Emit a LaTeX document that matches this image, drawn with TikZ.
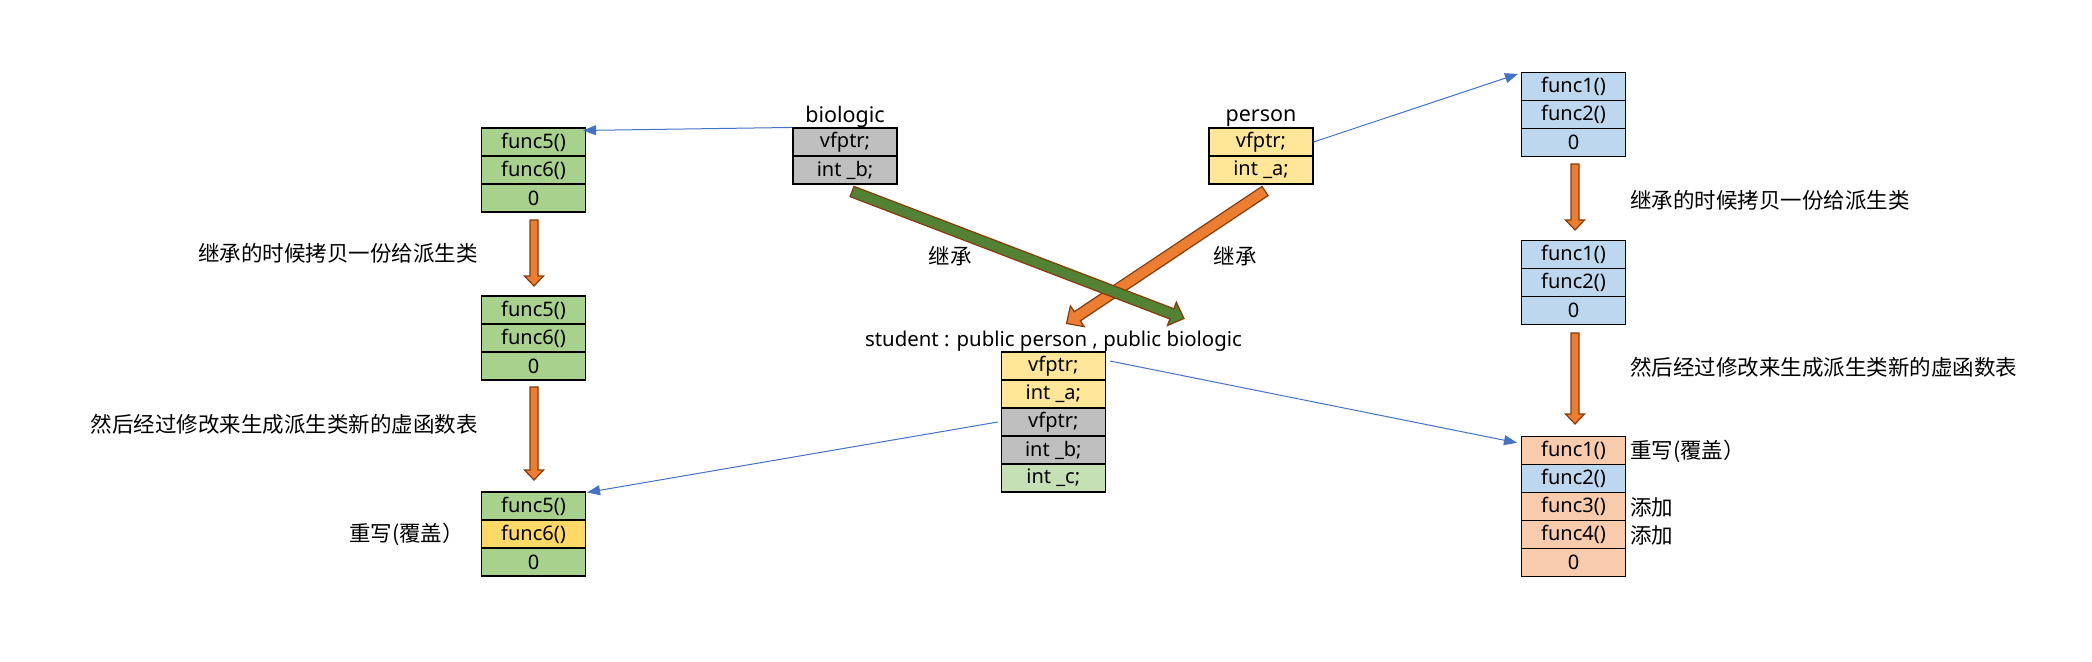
\documentclass[tikz,border=0pt]{standalone}
\usepackage{fontspec}
\setmainfont{Noto Sans}
\newfontfamily\cjk{Noto Sans CJK SC}
\usetikzlibrary{calc,arrows.meta}
\definecolor{cgreen}{HTML}{A9D18E}
\definecolor{cgrey}{HTML}{BFBFBF}
\definecolor{cyellow}{HTML}{FFE699}
\definecolor{cyellowb}{HTML}{FFD966}
\definecolor{clgreen}{HTML}{C5E0B4}
\definecolor{cblue}{HTML}{BDD7EE}
\definecolor{cpeach}{HTML}{F8CBAD}
\definecolor{aorange}{HTML}{ED7D31}
\definecolor{agreen}{HTML}{548235}
\definecolor{aedge}{HTML}{843C0C}
\definecolor{linkblue}{HTML}{4472C4}
\newcommand\fatarr[6]{%
  \coordinate (hb) at ($(#2)!#5!(#1)$);
  \filldraw[fill=#6,draw=aedge,line width=1.2pt,line join=miter]
    ($(#1)!#3!90:(#2)$) -- ($(hb)!#3!-90:(#1)$) -- ($(hb)!#4!-90:(#1)$) -- (#2)
    -- ($(hb)!#4!90:(#1)$) -- ($(hb)!#3!90:(#1)$) -- ($(#1)!#3!-90:(#2)$) -- cycle;}
\begin{document}
\begin{tikzpicture}[x=1pt,y=-1pt,
  cell/.style={draw=black,line width=1.1pt,minimum width=104pt,minimum height=28pt,inner sep=0pt,font=\fontsize{20}{22}\selectfont},
  lbl/.style={inner sep=0pt,font=\fontsize{21.5}{24}\selectfont},
  cj/.style={inner sep=0pt,font=\cjk\fontsize{21.5}{24}\selectfont},
  link/.style={draw=linkblue,line width=1pt,-{Triangle[length=13pt,width=10pt]}}]
\fill[white] (0,0) rectangle (2092,661);
\useasboundingbox (0,0) rectangle (2092,661);

% left column
\node[cell,fill=cgreen] (L1a) at (533.5,142) {func5()};
\node[cell,fill=cgreen] (L1b) at (533.5,170) {func6()};
\node[cell,fill=cgreen] (L1c) at (533.5,198) {0};
\node[cell,fill=cgreen] (L2a) at (533.5,310) {func5()};
\node[cell,fill=cgreen] (L2b) at (533.5,338) {func6()};
\node[cell,fill=cgreen] (L2c) at (533.5,366) {0};
\node[cell,fill=cgreen] (L3a) at (533.5,506) {func5()};
\node[cell,fill=cyellowb] (L3b) at (533.5,534) {func6()};
\node[cell,fill=cgreen] (L3c) at (533.5,562) {0};

% biologic / person
\node[cell,fill=cgrey] (bio1) at (845,142) {vfptr;};
\node[cell,fill=cgrey] (bio2) at (845,170) {int \_b;};
\node[cell,fill=cyellow] (per1) at (1261,142) {vfptr;};
\node[cell,fill=cyellow] (per2) at (1261,170) {int \_a;};

% student
\node[cell,fill=cyellow] (stu1) at (1053.3,366) {vfptr;};
\node[cell,fill=cyellow] (stu2) at (1053.3,394) {int \_a;};
\node[cell,fill=cgrey] (stu3) at (1053.3,422) {vfptr;};
\node[cell,fill=cgrey] (stu4) at (1053.3,450) {int \_b;};
\node[cell,fill=clgreen] (stu5) at (1053.3,478) {int \_c;};

% right column
\node[cell,fill=cblue] (R1a) at (1573.5,86.5) {func1()};
\node[cell,fill=cblue] (R1b) at (1573.5,114.5) {func2()};
\node[cell,fill=cblue] (R1c) at (1573.5,142.5) {0};
\node[cell,fill=cblue] (R2a) at (1573.5,254.5) {func1()};
\node[cell,fill=cblue] (R2b) at (1573.5,282.5) {func2()};
\node[cell,fill=cblue] (R2c) at (1573.5,310.5) {0};
\node[cell,fill=cpeach] (R3a) at (1573.5,450.3) {func1()};
\node[cell,fill=cblue] (R3b) at (1573.5,478.3) {func2()};
\node[cell,fill=cpeach] (R3c) at (1573.5,506.3) {func3()};
\node[cell,fill=cpeach] (R3d) at (1573.5,534.3) {func4()};
\node[cell,fill=cpeach] (R3e) at (1573.5,562.3) {0};

% labels
\node[lbl] (biol) at (845,117) {biologic};
\node[lbl] (pers) at (1261,118) {person};
\node[lbl,font=\fontsize{20.4}{23}\selectfont] (stul) at (1053.5,341) {student : public person , public biologic};
\node[cj] (jc1) at (950,256) {继承};
\node[cj] (jc2) at (1235,256) {继承};
\node[cj,anchor=east] (t1) at (478,253) {继承的时候拷贝一份给派生类};
\node[cj,anchor=east] (t2) at (478,424) {然后经过修改来生成派生类新的虚函数表};
\node[cj,anchor=east] (t3) at (464,534) {重写(覆盖）};
\node[cj,anchor=west] (t4) at (1630,200) {继承的时候拷贝一份给派生类};
\node[cj,anchor=west] (t5) at (1630,367) {然后经过修改来生成派生类新的虚函数表};
\node[cj,anchor=west] (t6) at (1630,451) {重写(覆盖）};
\node[cj,anchor=west] (t7) at (1630,507) {添加};
\node[cj,anchor=west] (t8) at (1630,535) {添加};

% fat arrows
\coordinate (va1) at (534,220); \coordinate (vb1) at (534,286);
\coordinate (va2) at (534,387); \coordinate (vb2) at (534,480);
\coordinate (va3) at (1575,164); \coordinate (vb3) at (1575,230);
\coordinate (va4) at (1575,333); \coordinate (vb4) at (1575,424);
\fatarr{va1}{vb1}{4pt}{9.5pt}{10pt}{aorange}
\fatarr{va2}{vb2}{4pt}{9.5pt}{10pt}{aorange}
\fatarr{va3}{vb3}{4pt}{9.5pt}{10pt}{aorange}
\fatarr{va4}{vb4}{4pt}{9.5pt}{10pt}{aorange}
\coordinate (o1) at (1265,191); \coordinate (o2) at (1066.5,323.5);
\coordinate (g1) at (852,191.5); \coordinate (g2) at (1184,318.5);
\fatarr{o1}{o2}{5.5pt}{12.5pt}{13pt}{aorange}
\fatarr{g1}{g2}{5.5pt}{12.5pt}{13pt}{agreen}

% blue links
\draw[link] (bio1.north west) -- ([shift={(-3,3)}]L1a.north east);
\draw[link] (per1.east) -- ([shift={(-3,2)}]R1a.north west);
\draw[link] ([shift={(4,-5)}]stu1.east) -- ([shift={(-4,7)}]R3a.north west);
\draw[link] ([shift={(-3,0)}]stu3.west) -- ([shift={(1,1)}]L3a.north east);
\end{tikzpicture}
\end{document}
